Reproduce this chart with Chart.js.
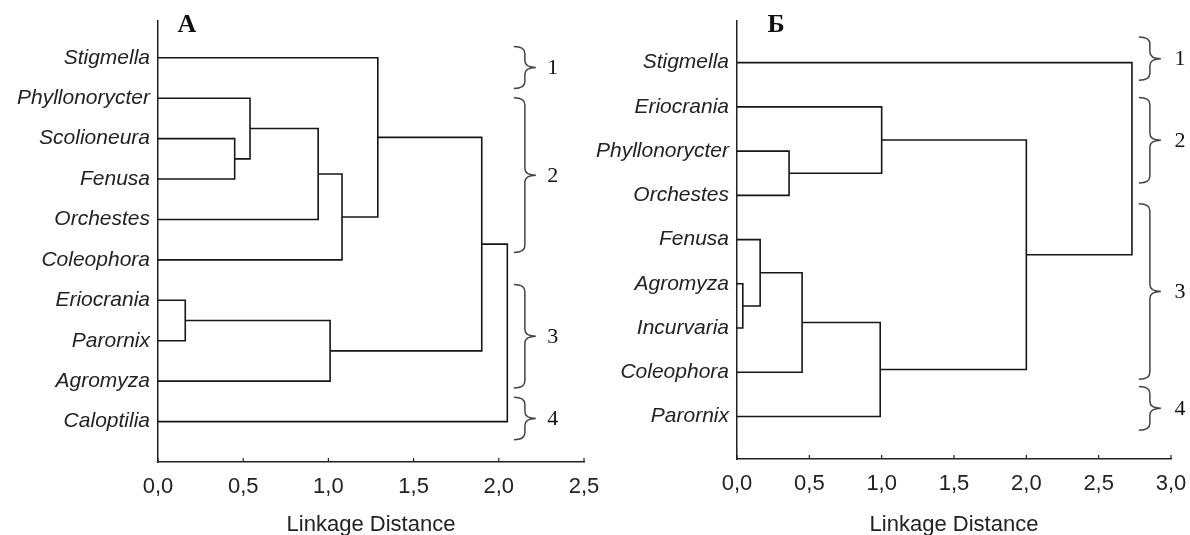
<!DOCTYPE html>
<html>
<head>
<meta charset="utf-8">
<script src="https://cdn.jsdelivr.net/npm/chart.js@4"></script>
<style>
  html, body { margin: 0; padding: 0; background: #fff; }
  body { width: 1190px; height: 535px; position: relative; overflow: hidden; }
  .panel { position: absolute; top: 0; height: 535px; }
  #panelA { left: 0; width: 620px; }
  #panelB { left: 590px; width: 620px; }
</style>
</head>
<body>
<div class="panel" id="panelA"><canvas id="chartA"></canvas></div>
<div class="panel" id="panelB"><canvas id="chartB"></canvas></div>
<script>
// panel A: leaves top to bottom, merges = [left child, right child, linkage distance]
// ids 0..n-1 are leaves, n.. are the merges in this order
const leavesA = ['Stigmella', 'Phyllonorycter', 'Scolioneura', 'Fenusa', 'Orchestes',
                 'Coleophora', 'Eriocrania', 'Parornix', 'Agromyza', 'Caloptilia'];
const mergesA = [
    [2, 3, 0.45],
    [1, 10, 0.54],
    [11, 4, 0.94],
    [12, 5, 1.08],
    [0, 13, 1.29],
    [6, 7, 0.16],
    [15, 8, 1.01],
    [14, 16, 1.90],
    [17, 9, 2.05]
];
// curly braces: [top, bottom, label] in leaf units (leaf i sits at n - i)
const groupsA = [[10.28, 9.24, '1'], [9.01, 5.18, '2'], [4.39, 1.83, '3'], [1.60, 0.55, '4']];
const ticksA = [0, 0.5, 1.0, 1.5, 2.0, 2.5];

// panel B
const leavesB = ['Stigmella', 'Eriocrania', 'Phyllonorycter', 'Orchestes', 'Fenusa',
                 'Agromyza', 'Incurvaria', 'Coleophora', 'Parornix'];
const mergesB = [
    [5, 6, 0.04],
    [4, 9, 0.16],
    [10, 7, 0.45],
    [2, 3, 0.36],
    [1, 12, 1.00],
    [11, 8, 0.99],
    [13, 14, 2.00],
    [0, 15, 2.73]
];
const groupsB = [[9.58, 8.60, '1'], [8.21, 6.28, '2'], [5.81, 1.84, '3'], [1.68, 0.69, '4']];
const ticksB = [0, 0.5, 1.0, 1.5, 2.0, 2.5, 3.0];

const LINE = '#161616';

// turn merges into one ⊐-shaped polyline per merge
function buildSegments(leaves, merges) {
    const n = leaves.length;
    const ys = leaves.map((_, i) => n - i);
    const hs = leaves.map(() => 0);
    const sets = [];
    merges.forEach(([a, b, h]) => {
        sets.push({
            data: [
                { x: hs[a], y: ys[a] },
                { x: h, y: ys[a] },
                { x: h, y: ys[b] },
                { x: hs[b], y: ys[b] }
            ],
            showLine: true,
            borderColor: LINE,
            borderWidth: 1.6,
            pointRadius: 0,
            tension: 0,
            fill: false
        });
        ys.push((ys[a] + ys[b]) / 2);
        hs.push(h);
    });
    return sets;
}

const extras = {
    id: 'extras',
    afterDraw(chart, args, opts) {
        const { ctx, scales: { x, y }, chartArea } = chart;
        ctx.save();
        // small inside tick marks on the distance axis
        ctx.strokeStyle = '#222';
        ctx.lineWidth = 1.2;
        x.ticks.forEach(t => {
            const px = x.getPixelForValue(t.value);
            ctx.beginPath();
            ctx.moveTo(px, chartArea.bottom);
            ctx.lineTo(px, chartArea.bottom - 4);
            ctx.stroke();
        });
        // panel letter
        ctx.fillStyle = '#111';
        ctx.font = 'bold 26px "Liberation Serif", serif';
        ctx.textAlign = 'center';
        ctx.textBaseline = 'alphabetic';
        ctx.fillText(opts.letter, x.getPixelForValue(opts.letterX), 32);
        // group braces
        const xb = x.getPixelForValue(opts.braceX);
        const w = 11, r = 7;
        ctx.strokeStyle = '#444';
        ctx.lineWidth = 1.5;
        opts.groups.forEach(([t, b, label]) => {
            const top = y.getPixelForValue(t);
            const bot = y.getPixelForValue(b);
            const mid = (top + bot) / 2;
            ctx.beginPath();
            ctx.moveTo(xb - w, top);
            ctx.quadraticCurveTo(xb, top, xb, top + r);
            ctx.lineTo(xb, mid - r);
            ctx.quadraticCurveTo(xb, mid, xb + w, mid);
            ctx.quadraticCurveTo(xb, mid, xb, mid + r);
            ctx.lineTo(xb, bot - r);
            ctx.quadraticCurveTo(xb, bot, xb - w, bot);
            ctx.stroke();
            ctx.fillStyle = '#111';
            ctx.font = '22px "Liberation Serif", serif';
            ctx.textAlign = 'center';
            ctx.textBaseline = 'middle';
            ctx.fillText(label, xb + opts.labelOffset, mid + 1);
        });
        ctx.restore();
    }
};

function makeChart(id, leaves, merges, groups, ticks, cfg) {
    const n = leaves.length;
    return new Chart(document.getElementById(id), {
        type: 'scatter',
        data: { datasets: buildSegments(leaves, merges) },
        plugins: [extras],
        options: {
            responsive: false,
            animation: false,
            events: [],
            layout: { padding: { left: 0, right: cfg.padRight, top: cfg.padTop, bottom: 0 } },
            scales: {
                x: {
                    type: 'linear',
                    min: ticks[0],
                    max: ticks[ticks.length - 1],
                    afterBuildTicks: s => { s.ticks = ticks.map(v => ({ value: v })); },
                    afterFit: s => { s.height = cfg.xHeight; },
                    grid: { display: false, drawTicks: false },
                    border: { display: true, color: '#222', width: 1.5 },
                    ticks: {
                        padding: 12,
                        color: '#222',
                        font: { family: '"Liberation Sans", Arial, sans-serif', size: 22 },
                        callback: v => v.toFixed(1).replace('.', ',')
                    },
                    title: {
                        display: true,
                        text: 'Linkage Distance',
                        color: '#222',
                        padding: { top: 4, bottom: -3 },
                        font: { family: '"Liberation Sans", Arial, sans-serif', size: 22 }
                    }
                },
                y: {
                    type: 'linear',
                    min: cfg.yMin,
                    max: cfg.yMax,
                    afterBuildTicks: s => { s.ticks = leaves.map((_, i) => ({ value: n - i })); },
                    afterFit: s => { s.width = cfg.yWidth; },
                    grid: { display: false, drawTicks: false },
                    border: { display: true, color: '#222', width: 1.5 },
                    ticks: {
                        padding: 8,
                        color: '#222',
                        font: { family: '"Liberation Sans", Arial, sans-serif', size: 21, style: 'italic' },
                        callback: v => leaves[n - v]
                    }
                }
            },
            plugins: {
                legend: { display: false },
                tooltip: { enabled: false },
                extras: {
                    letter: cfg.letter,
                    letterX: cfg.letterX,
                    braceX: cfg.braceX,
                    labelOffset: cfg.labelOffset,
                    groups: groups
                }
            }
        }
    });
}

document.getElementById('chartA').width = 620;
document.getElementById('chartA').height = 535;
document.getElementById('chartB').width = 620;
document.getElementById('chartB').height = 535;

makeChart('chartA', leavesA, mergesA, groupsA, ticksA, {
    padRight: 36, padTop: 15, xHeight: 73, yWidth: 158,
    yMin: 0, yMax: 10.92,
    letter: 'А', letterX: 0.17, braceX: 2.153, labelOffset: 28
});
makeChart('chartB', leavesB, mergesB, groupsB, ticksB, {
    padRight: 39, padTop: 10, xHeight: 76, yWidth: 147,
    yMin: 0.04, yMax: 9.95,
    letter: 'Б', letterX: 0.27, braceX: 2.854, labelOffset: 30
});
</script>
</body>
</html>
